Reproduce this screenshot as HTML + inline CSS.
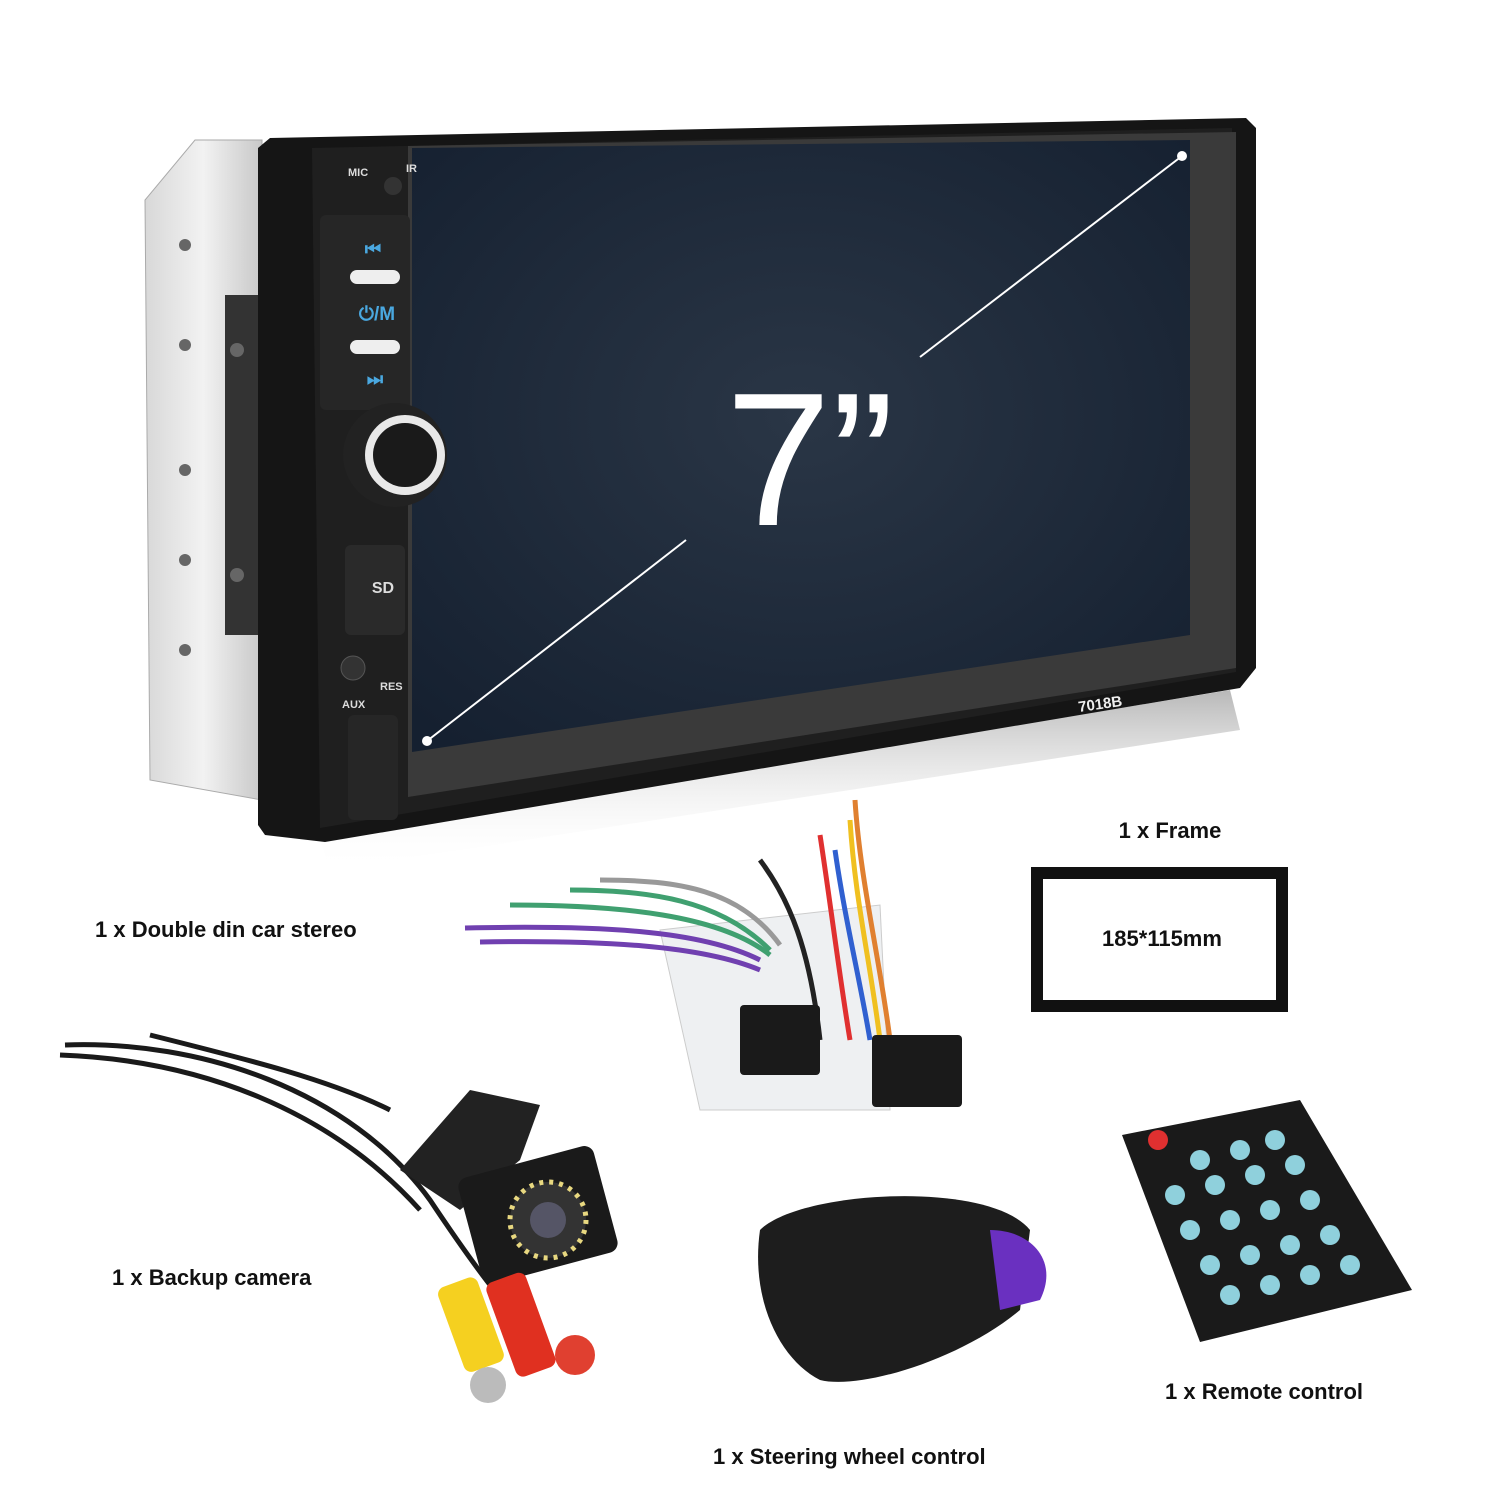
<!DOCTYPE html>
<html><head><meta charset="utf-8"><style>
body{margin:0;background:#fff}
svg{display:block}
text{font-family:"Liberation Sans",Arial,sans-serif;font-weight:bold}
</style></head><body>
<svg width="1500" height="1500" viewBox="0 0 1500 1500" xmlns="http://www.w3.org/2000/svg">
<defs>
<linearGradient id="met" x1="0" x2="1"><stop offset="0" stop-color="#d8d8d8"/><stop offset="0.5" stop-color="#f2f2f2"/><stop offset="1" stop-color="#c8c8c8"/></linearGradient>
<radialGradient id="scr" cx="0.5" cy="0.45" r="0.7"><stop offset="0" stop-color="#2a3646"/><stop offset="1" stop-color="#152030"/></radialGradient>
<linearGradient id="sh" x1="0" y1="0" x2="0" y2="1"><stop offset="0" stop-color="#888" stop-opacity="0.6"/><stop offset="1" stop-color="#fff" stop-opacity="0"/></linearGradient>
</defs>
<!-- chassis -->
<polygon points="195,140 262,140 262,800 150,780 145,200" fill="url(#met)" stroke="#aaa"/>
<rect x="225" y="295" width="40" height="340" fill="#333"/>
<g fill="#666"><circle cx="185" cy="245" r="6"/><circle cx="185" cy="345" r="6"/><circle cx="185" cy="470" r="6"/><circle cx="185" cy="560" r="6"/><circle cx="185" cy="650" r="6"/><circle cx="237" cy="350" r="7"/><circle cx="237" cy="575" r="7"/></g>
<!-- shadow -->
<polygon points="320,840 1230,690 1240,730 330,870" fill="url(#sh)"/>
<!-- bezel -->
<polygon points="258,148 270,138 1246,118 1256,128 1256,668 1240,688 325,842 265,835 258,825" fill="#151515"/>
<polygon points="312,148 1232,128 1236,672 320,828" fill="#1f1f1f"/>
<polygon points="408,146 1236,132 1236,668 408,797" fill="#3a3a3a"/>
<polygon points="412,148 1190,140 1190,635 412,752" fill="url(#scr)"/>
<!-- buttons -->
<rect x="320" y="215" width="90" height="195" rx="6" fill="#262626"/>
<text x="373" y="255" fill="#4aa8e0" font-size="18" text-anchor="middle">⏮</text>
<text x="377" y="320" fill="#4aa8e0" font-size="19" text-anchor="middle">⏻/M</text>
<text x="375" y="385" fill="#4aa8e0" font-size="18" text-anchor="middle">⏭</text>
<rect x="350" y="270" width="50" height="14" rx="7" fill="#eee"/>
<rect x="350" y="340" width="50" height="14" rx="7" fill="#eee"/>
<circle cx="395" cy="455" r="52" fill="#222"/><circle cx="405" cy="455" r="40" fill="#e8e8e8"/><circle cx="405" cy="455" r="32" fill="#1a1a1a"/>
<text x="348" y="176" fill="#ddd" font-size="11">MIC</text><text x="406" y="172" fill="#ddd" font-size="11">IR</text>
<circle cx="393" cy="186" r="9" fill="#333"/>
<rect x="345" y="545" width="60" height="90" rx="6" fill="#2a2a2a"/>
<text x="383" y="593" fill="#ddd" font-size="16" text-anchor="middle">SD</text>
<circle cx="353" cy="668" r="12" fill="#333" stroke="#555"/>
<text x="342" y="708" fill="#ddd" font-size="11">AUX</text><text x="380" y="690" fill="#ddd" font-size="11">RES</text>
<rect x="348" y="715" width="50" height="105" rx="6" fill="#262626"/>
<text x="1100" y="709" fill="#eee" font-size="15" text-anchor="middle" transform="rotate(-8 1100 703)">7018B</text>
<!-- screen text/lines -->
<line x1="1182" y1="156" x2="920" y2="357" stroke="#fff" stroke-width="2"/>
<line x1="686" y1="540" x2="427" y2="741" stroke="#fff" stroke-width="2"/>
<circle cx="1182" cy="156" r="5" fill="#fff"/><circle cx="427" cy="741" r="5" fill="#fff"/>
<text x="810" y="525" fill="#fff" font-size="190" text-anchor="middle" style="font-weight:normal">7”</text>
<!-- labels -->
<text x="95" y="937" font-size="22" fill="#111">1 x  Double din car stereo</text>
<text x="112" y="1285" font-size="22" fill="#111">1 x  Backup camera</text>
<text x="713" y="1464" font-size="22" fill="#111">1 x Steering wheel control</text>
<text x="1165" y="1399" font-size="22" fill="#111">1 x Remote control</text>
<text x="1170" y="838" font-size="22" fill="#111" text-anchor="middle">1 x Frame</text>
<!-- frame -->
<rect x="1037" y="873" width="245" height="133" fill="none" stroke="#111" stroke-width="12"/>
<text x="1162" y="946" font-size="22" fill="#111" text-anchor="middle">185*115mm</text>
<!-- harness -->
<polygon points="660,930 880,905 890,1110 700,1110" fill="#eef0f2" stroke="#ccc"/>
<g fill="none" stroke-width="5">
<path d="M465,928 C600,925 700,930 760,960" stroke="#7040b0"/>
<path d="M480,942 C600,940 700,945 760,970" stroke="#7040b0"/>
<path d="M510,905 C620,905 720,915 770,955" stroke="#40a070"/>
<path d="M570,890 C650,890 720,900 770,950" stroke="#40a070"/>
<path d="M600,880 C680,880 740,890 780,945" stroke="#999"/>
<path d="M760,860 C790,900 810,950 820,1040" stroke="#222"/>
<path d="M820,835 C830,900 840,980 850,1040" stroke="#e03030"/>
<path d="M855,800 C860,880 880,960 890,1040" stroke="#e08030"/>
<path d="M850,820 C855,900 870,960 880,1040" stroke="#f0c020"/>
<path d="M835,850 C845,920 860,980 870,1040" stroke="#3060d0"/>
</g>
<rect x="740" y="1005" width="80" height="70" rx="4" fill="#1a1a1a"/>
<rect x="872" y="1035" width="90" height="72" rx="4" fill="#1a1a1a"/>
<!-- camera -->
<g fill="none" stroke="#1a1a1a" stroke-width="5">
<path d="M65,1045 C200,1040 350,1090 430,1200 C470,1260 500,1300 520,1320"/>
<path d="M60,1055 C200,1060 330,1110 420,1210"/>
<path d="M150,1035 C250,1060 330,1080 390,1110"/>
</g>
<polygon points="400,1170 470,1090 540,1105 520,1160 460,1210" fill="#222"/>
<rect x="468" y="1160" width="140" height="110" rx="10" fill="#1a1a1a" transform="rotate(-15 538 1215)"/>
<circle cx="548" cy="1220" r="38" fill="#333" stroke="#e8d880" stroke-width="5" stroke-dasharray="4 6"/>
<circle cx="548" cy="1220" r="18" fill="#556"/>
<rect x="450" y="1280" width="42" height="90" rx="8" fill="#f5d020" transform="rotate(-20 470 1325)"/>
<rect x="500" y="1275" width="42" height="100" rx="8" fill="#e03020" transform="rotate(-20 520 1325)"/>
<circle cx="488" cy="1385" r="18" fill="#bbb"/><circle cx="575" cy="1355" r="20" fill="#e04030"/>
<!-- steering control -->
<path d="M760,1230 C800,1190 990,1180 1030,1230 L1020,1310 C960,1360 860,1390 820,1380 C780,1360 750,1300 760,1230Z" fill="#1d1d1d"/>
<path d="M990,1230 C1030,1230 1060,1260 1040,1300 L1000,1310Z" fill="#6a30c0"/>
<!-- remote -->
<polygon points="1122,1135 1300,1100 1412,1290 1200,1342" fill="#1a1a1a"/>
<g fill="#8fd0dc">
<circle cx="1200" cy="1160" r="10"/><circle cx="1240" cy="1150" r="10"/><circle cx="1275" cy="1140" r="10"/>
<circle cx="1175" cy="1195" r="10"/><circle cx="1215" cy="1185" r="10"/><circle cx="1255" cy="1175" r="10"/><circle cx="1295" cy="1165" r="10"/>
<circle cx="1190" cy="1230" r="10"/><circle cx="1230" cy="1220" r="10"/><circle cx="1270" cy="1210" r="10"/><circle cx="1310" cy="1200" r="10"/>
<circle cx="1210" cy="1265" r="10"/><circle cx="1250" cy="1255" r="10"/><circle cx="1290" cy="1245" r="10"/><circle cx="1330" cy="1235" r="10"/>
<circle cx="1230" cy="1295" r="10"/><circle cx="1270" cy="1285" r="10"/><circle cx="1310" cy="1275" r="10"/><circle cx="1350" cy="1265" r="10"/>
</g>
<circle cx="1158" cy="1140" r="10" fill="#e03030"/>
</svg>
</body></html>
